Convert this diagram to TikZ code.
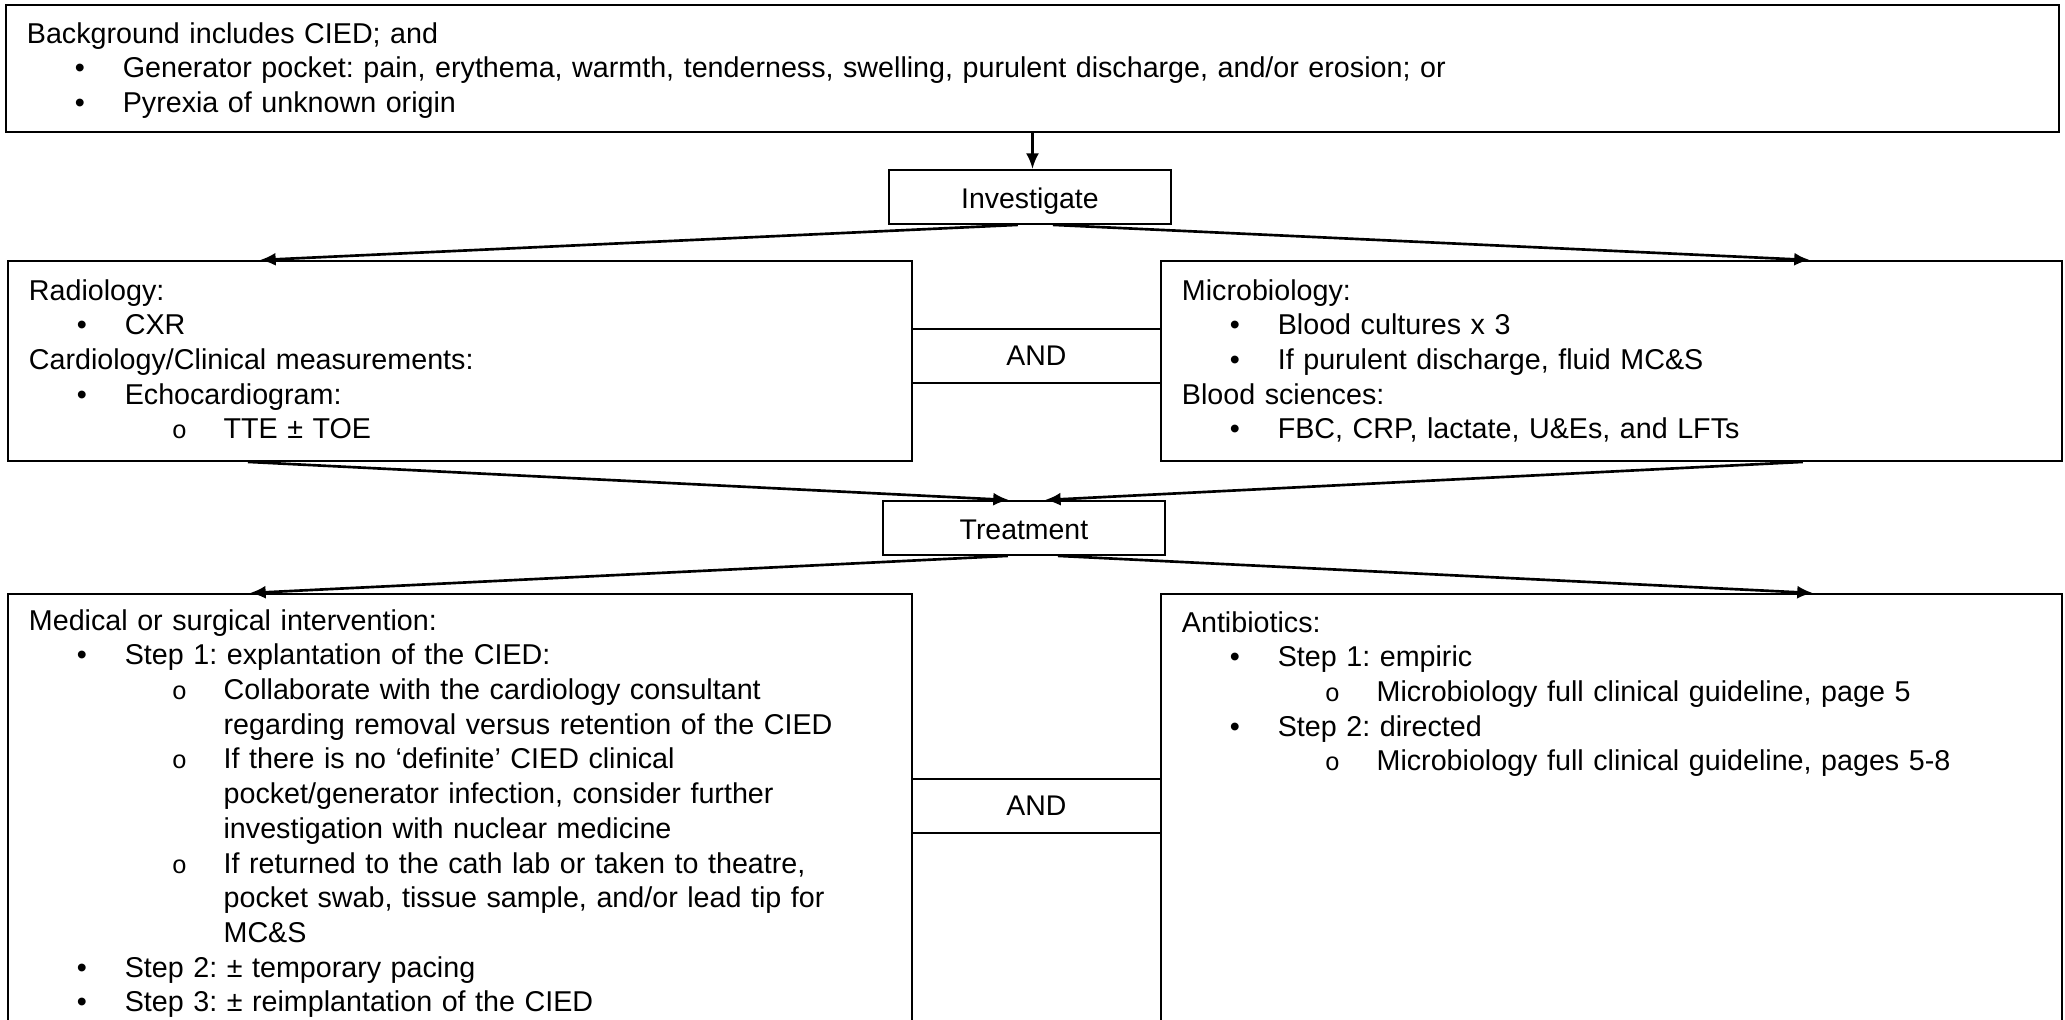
\documentclass[tikz,border=0pt]{standalone}
\usepackage{fontspec}
\setmainfont{Liberation Sans}
\setmonofont{Liberation Mono}
\frenchspacing
\usetikzlibrary{arrows.meta}
\usetikzlibrary{calc}

% list marks
\newcommand{\bul}{\makebox[39.8pt][l]{\hspace*{22pt}\makebox[0pt]{\textbullet}}}
\newcommand{\sbul}{\makebox[80.8pt][l]{\hspace*{62.5pt}\makebox[0pt]{\fontsize{10.5}{12}\selectfont\texttt{o}}}}
\newcommand{\scont}{\hspace*{80.8pt}}

\begin{document}
\begin{tikzpicture}[x=0.415pt,y=-0.415pt,thick,>={Latex[length=6.5pt,width=5.4pt]}]
\tikzstyle{listbox} = [draw, anchor=north west, align=left, inner xsep=8.7pt,
inner ysep=0pt, font=\fontsize{11.9}{14.4}\selectfont]
\tikzstyle{stepbox} = [draw, anchor=north west, minimum width=117pt, inner xsep=0pt,
inner ysep=0pt, text height=15.8pt, text depth=6.6pt, font=\fontsize{11.8}{13}\selectfont]
\tikzstyle{andbox} = [stepbox, minimum width=103.3pt, text height=15.3pt, text depth=7.1pt]
\tikzstyle{link} = [->, line width=1.1pt]
\clip (0,0) rectangle (2065,1020);
% row 1
\node [listbox, text width=834.6pt, text height=15.8pt, text depth=36.9pt] (bg) at (5,4)
{Background includes CIED; and\\
\bul Generator pocket: pain, erythema, warmth, tenderness, swelling, purulent discharge, and/or erosion; or\\
\bul Pyrexia of unknown origin};
\node [stepbox] (inv) at (888,169) {Investigate};
% row 2
\node [listbox, text width=357.8pt, text height=16.2pt, text depth=66.8pt] (rad) at (7,260)
{Radiology:\\
\bul CXR\\
Cardiology/Clinical measurements:\\
\bul Echocardiogram:\\
\sbul TTE ± TOE};
\node [andbox] (and1) at (911,328) {AND};
\node [listbox, text width=356.5pt, text height=16.2pt, text depth=66.8pt] (mic) at (1160,260)
{Microbiology:\\
\bul Blood cultures x 3\\
\bul If purulent discharge, fluid MC\&S\\
Blood sciences:\\
\bul FBC, CRP, lactate, U\&Es, and LFTs};
\node [stepbox] (treat) at (882,500) {Treatment};
% row 3
\node [listbox, text width=357.8pt, text height=15pt, text depth=170.6pt] (med) at (7,593)
{Medical or surgical intervention:\\
\bul Step 1: explantation of the CIED:\\
\sbul Collaborate with the cardiology consultant\\
\scont regarding removal versus retention of the CIED\\
\sbul If there is no ‘definite’ CIED clinical\\
\scont pocket/generator infection, consider further\\
\scont investigation with nuclear medicine\\
\sbul If returned to the cath lab or taken to theatre,\\
\scont pocket swab, tissue sample, and/or lead tip for\\
\scont MC\&S\\
\bul Step 2: ± temporary pacing\\
\bul Step 3: ± reimplantation of the CIED};
\node [andbox] (and2) at (911,778) {AND};
\node [listbox, text width=356.5pt, text height=15.8pt, text depth=169.8pt] (ant) at (1160,593)
{Antibiotics:\\
\bul Step 1: empiric\\
\sbul Microbiology full clinical guideline, page 5\\
\bul Step 2: directed\\
\sbul Microbiology full clinical guideline, pages 5-8};
% connectors
\draw[link] (bg.south) -- (bg.south |- inv.north);
\draw[link] ($(inv.south)+(-12,0)$) -- ($(rad.north west)+(253,0)$);
\draw[link] ($(inv.south)+(23,0)$) -- ($(mic.north east)+(-253,0)$);
\draw[link] ($(rad.south west)+(241,0)$) -- ($(treat.north)+(-15,0)$);
\draw[link] ($(mic.south east)+(-260,0)$) -- ($(treat.north)+(21,0)$);
\draw[link] ($(treat.south)+(-16,0)$) -- ($(med.north west)+(243,0)$);
\draw[link] ($(treat.south)+(34,0)$) -- ($(ant.north east)+(-250,0)$);
\end{tikzpicture}
\end{document}
